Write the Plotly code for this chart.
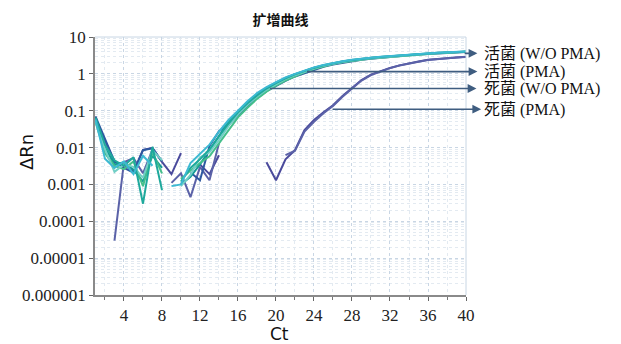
import math
import plotly.graph_objects as go

# ---------------- data ----------------
ct = list(range(1, 41))

live_wo_pma_a = [0.065, 0.012, 0.0045, 0.0032, 0.0055, 0.0003, 0.0105, 0.0007, None, 0.0012,
                 0.0028, 0.0048, 0.009, 0.02, 0.045, 0.09, 0.16, 0.26, 0.4, 0.56,
                 0.76, 0.97, 1.2, 1.45, 1.7, 1.95, 2.15, 2.35, 2.55, 2.7,
                 2.85, 3.0, 3.15, 3.3, 3.45, 3.56, 3.7, 3.8, 3.9, 4.0]
live_wo_pma_b = [0.058, 0.005, 0.0028, 0.0042, 0.0019, 0.006, 0.0032, None, 0.0009, 0.001,
                 0.0038, 0.0068, 0.012, 0.027, 0.056, 0.1, 0.18, 0.3, 0.44, 0.6,
                 0.8, 1.0, 1.25, 1.5, 1.75, 2.0, 2.2, 2.4, 2.6, 2.75,
                 2.9, 3.05, 3.2, 3.35, 3.5, 3.62, 3.75, 3.85, 3.95, 4.05]
live_pma_a = [0.05, 0.007, 0.0032, 0.0026, 0.0042, 0.0009, 0.0075, 0.002, None, 0.0014,
              0.0024, 0.0038, 0.0058, 0.013, 0.03, 0.066, 0.12, 0.21, 0.33, 0.48,
              0.66, 0.86, 1.1, 1.35, 1.6, 1.85, 2.05, 2.25, 2.45, 2.6,
              2.75, 2.9, 3.05, 3.2, 3.35, 3.5, 3.62, 3.75, 3.85, 3.95]
live_pma_b = [0.055, 0.009, 0.0022, 0.0035, 0.003, 0.0015, 0.0085, 0.0045, None, 0.0009,
              0.0018, 0.0055, 0.0075, 0.016, 0.038, 0.08, 0.145, 0.24, 0.37, 0.52,
              0.72, 0.92, 1.15, 1.4, 1.65, 1.9, 2.1, 2.3, 2.5, 2.65,
              2.8, 2.95, 3.1, 3.25, 3.4, 3.52, 3.65, 3.78, 3.88, 3.98]
dead_wo_pma_a = [0.07, 0.018, 0.0042, 0.0028, 0.0021, 0.0085, 0.0095, 0.0042, None, None,
                 0.0021, 0.0013, 0.011, 0.028, 0.042, 0.072, 0.13, 0.22, 0.34, 0.48,
                 0.65, 0.85, 1.05, 1.3, 1.55, 1.8, 2.0, 2.2, 2.4, 2.58,
                 2.75, 2.9, 3.05, 3.2, 3.35, 3.48, 3.6, 3.72, 3.82, 3.92]
dead_wo_pma_b = [0.062, 0.01, 0.0035, 0.004, 0.0025, 0.0012, 0.006, 0.0028, None, 0.001,
                 0.0016, 0.0035, 0.0085, 0.021, 0.05, 0.095, 0.17, 0.28, 0.42, 0.58,
                 0.78, 0.98, 1.22, 1.47, 1.72, 1.97, 2.17, 2.37, 2.57, 2.72,
                 2.87, 3.02, 3.17, 3.32, 3.47, 3.58, 3.72, 3.82, 3.92, 4.02]
dead_pma_a = [0.06, 0.015, 0.004, 0.0035, 0.0022, 0.0087, 0.0098, 0.0041, 0.0019, 0.0071,
              None, 0.0035, 0.0019, 0.0062, None, None, None, None, 0.004, 0.0013,
              0.0048, 0.0085, 0.03, 0.056, 0.09, 0.14, 0.25, 0.42, 0.68, 0.95,
              1.2, 1.45, 1.7, 1.95, 2.15, 2.4, 2.55, 2.7, 2.8, 2.9]
dead_pma_b = [None, None, 0.00003, 0.004, 0.0052, 0.002, 0.0088, None, 0.0011, 0.002,
              0.00045, 0.003, 0.0013, 0.013, None, None, None, None, None, None,
              0.0062, 0.0082, 0.027, 0.05, 0.085, 0.135, 0.24, 0.41, 0.66, 0.93,
              1.18, 1.43, 1.68, 1.92, 2.12, 2.36, 2.52, 2.68, 2.78, 2.88]

series = [
    ("死菌 (PMA) a", dead_pma_a, "#4a4a9c"),
    ("死菌 (PMA) b", dead_pma_b, "#5b62a8"),
    ("死菌 (W/O PMA) a", dead_wo_pma_a, "#2d58a0"),
    ("死菌 (W/O PMA) b", dead_wo_pma_b, "#139a96"),
    ("活菌 (PMA) a", live_pma_a, "#44bf8b"),
    ("活菌 (PMA) b", live_pma_b, "#72cfc6"),
    ("活菌 (W/O PMA) a", live_wo_pma_a, "#1ea99c"),
    ("活菌 (W/O PMA) b", live_wo_pma_b, "#3db9d2"),
]

# arrow labels: text, y value (ΔRn), arrow start / end Ct
label_texts = ["活菌 (W/O PMA)", "活菌 (PMA)", "死菌 (W/O PMA)", "死菌 (PMA)"]
label_y = [3.6, 1.15, 0.40, 0.11]
arrow_start = [39.7, 23.1, 19.2, 25.8]
arrow_end = [41.2, 41.2, 41.1, 41.6]
text_y = [3.4, 1.12, 0.38, 0.105]

ytick_vals = [1e-6, 1e-5, 1e-4, 1e-3, 1e-2, 1e-1, 1, 10]
ytick_text = ["0.000001", "0.00001", "0.0001", "0.001", "0.01", "0.1", "1", "10"]
xtick_vals = [4, 8, 12, 16, 20, 24, 28, 32, 36, 40]

# ---------------- figure ----------------
fig = go.Figure()
for name, vals, color in series:
    fig.add_trace(go.Scatter(x=ct, y=vals, mode="lines", name=name,
                             line=dict(color=color, width=2),
                             connectgaps=False, hoverinfo="skip"))

serif = "Liberation Serif, Times New Roman, Noto Sans CJK SC, serif"
grid_c = "#c9d6e4"
minor_c = "#e3eaf1"

minor_y = [m * 10 ** e for e in range(-6, 1) for m in range(2, 10)]

# page body has an 8px margin; figure pixel positions are compensated
OFF = 8
W, H = 621 - OFF, 344 - OFF
L, R, T, B = 95 - OFF, 466 - OFF, 37 - OFF, 295 - OFF
pw, ph = R - L, B - T

fig.update_layout(
    width=W, height=H,
    margin=dict(l=L, r=W - R, t=T, b=H - B, autoexpand=False),
    paper_bgcolor="white", plot_bgcolor="white",
    showlegend=False,
    title=dict(text="<b>扩增曲线</b>", x=(L + R) / 2 / W, xanchor="center",
               y=1 - (20 - OFF) / H, yanchor="middle",
               font=dict(family="Noto Sans CJK SC", size=14, color="#111")),
    xaxis=dict(range=[0.95, 40], tickmode="array", tickvals=xtick_vals,
               automargin=False,
               ticks="outside", ticklen=4, tickcolor="#666",
               showline=True, linecolor="#8a8a8a", linewidth=1.5,
               showgrid=True, gridcolor=grid_c, griddash="dot", gridwidth=1,
               zeroline=False,
               minor=dict(tickmode="linear", tick0=0, dtick=2, ticks="outside", ticklen=3,
                          tickcolor="#777", showgrid=True, gridcolor=minor_c, griddash="dot"),
               tickfont=dict(family=serif, size=17, color="#222")),
    yaxis=dict(type="log", range=[-6, 1], tickmode="array",
               tickvals=ytick_vals, ticktext=ytick_text,
               automargin=False,
               ticks="outside", ticklen=4, tickcolor="#666",
               showline=True, linecolor="#8a8a8a", linewidth=1.5,
               showgrid=True, gridcolor=grid_c, griddash="dot", gridwidth=1.2,
               zeroline=False,
               minor=dict(tickmode="array", tickvals=minor_y, ticks="",
                          showgrid=True, gridcolor=minor_c, griddash="dot"),
               tickfont=dict(family=serif, size=17, color="#222")),
)

# light border on top/right
fig.add_shape(type="line", xref="paper", yref="paper", x0=0, x1=1, y0=1, y1=1,
              line=dict(color="#c8d6e4", width=1))
fig.add_shape(type="line", xref="paper", yref="paper", x0=1, x1=1, y0=0, y1=1,
              line=dict(color="#c8d6e4", width=1))

# axis titles as annotations
fig.add_annotation(text="ΔRn", xref="paper", yref="paper",
                   x=-(95 - 26) / pw, y=(295 - 152) / ph, textangle=-90,
                   showarrow=False, xanchor="center", yanchor="middle",
                   font=dict(family="DejaVu Sans", size=18, color="#111"))
fig.add_annotation(text="Ct", xref="paper", yref="paper",
                   x=(279 - 95) / pw, y=-(334 - 295) / ph,
                   showarrow=False, xanchor="center", yanchor="middle",
                   font=dict(family="DejaVu Sans", size=17, color="#111"))

# arrows and labels
for t, yv, xs, xe, ty in zip(label_texts, label_y, arrow_start, arrow_end, text_y):
    ly = math.log10(yv)
    fig.add_annotation(x=xe, y=ly, ax=xs, ay=ly, xref="x", yref="y",
                       axref="x", ayref="y", text="", showarrow=True,
                       arrowhead=2, arrowsize=1.1, arrowwidth=1.6,
                       arrowcolor="#3f5d80")
    fig.add_annotation(x=(482 - 95) / pw, y=(math.log10(ty) + 6) / 7,
                       xref="paper", yref="paper", text=t,
                       showarrow=False, xanchor="left", yanchor="middle",
                       font=dict(family=serif, size=16, color="#111"))

fig.write_html("out.html")
